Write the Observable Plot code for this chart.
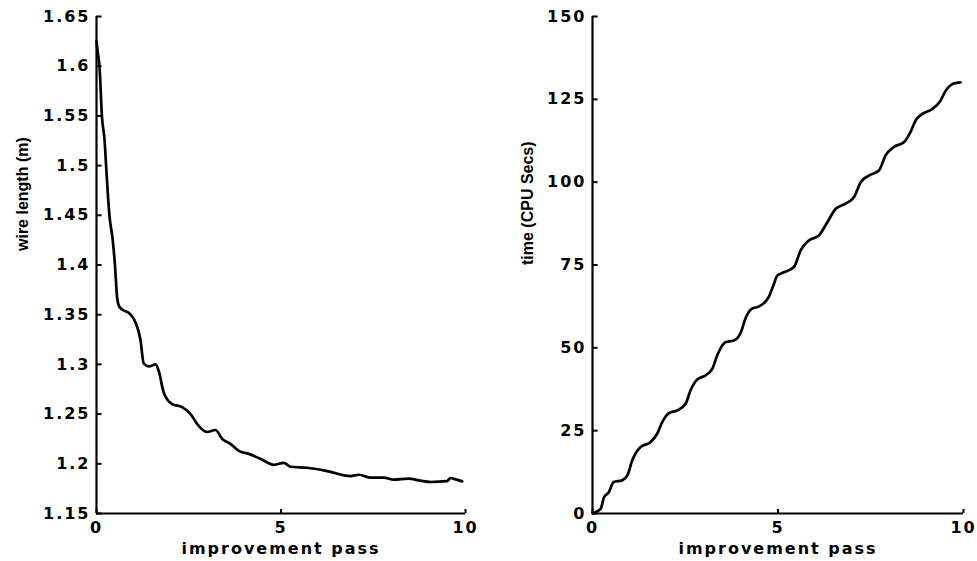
<!DOCTYPE html>
<html>
<head>
<meta charset="utf-8">
<script src="https://cdn.jsdelivr.net/npm/d3@7"></script>
<script src="https://cdn.jsdelivr.net/npm/@observablehq/plot@0.6"></script>
<style>
  html, body { margin: 0; padding: 0; background: #fff; }
  #wrap { display: flex; width: 977px; height: 561px; }
  svg text { letter-spacing: 2px; }
  svg text[transform*="rotate"] { letter-spacing: 0px; }
</style>
</head>
<body>
<div id="wrap"></div>
<script>
// ---- data ----
const passLeft = [0, 0.03, 0.08, 0.15, 0.22, 0.26, 0.35, 0.44, 0.50, 0.56, 0.62, 0.75, 0.87, 0.97, 1.06, 1.19, 1.28, 1.42, 1.60, 1.69, 1.82, 2.05, 2.32, 2.55, 2.73, 3.00, 3.22, 3.41, 3.63, 3.86, 4.13, 4.44, 4.81, 5.08, 5.26, 5.71, 6.25, 6.88, 7.11, 7.43, 7.79, 8.06, 8.46, 8.78, 9.05, 9.50, 9.59, 9.73, 9.91];
const wireLength = [1.625, 1.615, 1.600, 1.548, 1.525, 1.500, 1.450, 1.425, 1.400, 1.367, 1.358, 1.354, 1.352, 1.348, 1.342, 1.325, 1.301, 1.298, 1.300, 1.293, 1.272, 1.260, 1.257, 1.250, 1.240, 1.232, 1.234, 1.225, 1.220, 1.213, 1.210, 1.205, 1.199, 1.201, 1.197, 1.196, 1.1927, 1.1877, 1.189, 1.186, 1.186, 1.184, 1.185, 1.183, 1.1817, 1.1825, 1.1857, 1.1843, 1.1823];

const passRight = [0, 0.22, 0.31, 0.44, 0.57, 0.80, 0.94, 1.07, 1.29, 1.56, 1.74, 1.88, 2.06, 2.28, 2.51, 2.64, 2.82, 3.05, 3.23, 3.36, 3.58, 3.81, 4.00, 4.12, 4.30, 4.49, 4.75, 4.89, 4.98, 5.16, 5.43, 5.61, 5.83, 6.10, 6.33, 6.55, 6.82, 7.05, 7.23, 7.45, 7.72, 7.90, 8.12, 8.40, 8.57, 8.71, 8.89, 9.16, 9.38, 9.52, 9.74, 9.92];
const cpuTime = [0, 1.4, 4.9, 6.4, 9.5, 10.0, 11.5, 16.0, 20.0, 21.5, 24.0, 27.6, 30.3, 31.1, 33.1, 37.1, 40.4, 41.7, 43.7, 47.7, 51.7, 52.2, 54.7, 58.8, 61.8, 62.5, 65.3, 69.3, 71.8, 72.8, 74.4, 79.4, 82.4, 83.9, 87.9, 91.9, 93.5, 95.5, 100.0, 102.0, 103.5, 108.1, 110.6, 112.1, 115.1, 118.6, 120.6, 122.1, 124.6, 127.6, 129.8, 130.1];

const xTicks = [0, 5, 10];
const wireTicks = [1.15, 1.2, 1.25, 1.3, 1.35, 1.4, 1.45, 1.5, 1.55, 1.6, 1.65];
const timeTicks = [0, 25, 50, 75, 100, 125, 150];

const xLabel = "improvement pass";
const wireLabel = "wire length (m)";
const timeLabel = "time (CPU Secs)";

const leftData = passLeft.map((x, i) => ({x, y: wireLength[i]}));
const rightData = passRight.map((x, i) => ({x, y: cpuTime[i]}));

const baseStyle = {
  fontFamily: "'DejaVu Sans', sans-serif",
  fontWeight: "bold",
  fontSize: "16px",
  color: "#000",
  background: "#fff",
  overflow: "visible"
};

function panel({data, width, marginLeft, marginRight, yDomain, yTicks, yTickLen, xTickLen, yLabel, labelDx, labelDy}) {
  return Plot.plot({
    width, height: 561,
    marginLeft, marginRight, marginTop: 16, marginBottom: 48,
    style: baseStyle,
    x: {domain: [0, 10], ticks: xTicks, tickSize: 0, tickPadding: 8, label: null, tickFormat: d => String(d)},
    y: {domain: yDomain, ticks: yTicks, tickSize: 0, tickPadding: 6, label: null, tickFormat: d => String(d)},
    marks: [
      Plot.ruleX([0], {stroke: "#000", strokeWidth: 2.2}),
      Plot.ruleY([yDomain[0]], {stroke: "#000", strokeWidth: 2.2}),
      Plot.ruleY(yTicks, {y: d => d, x1: 0, x2: yTickLen, stroke: "#000", strokeWidth: 2}),
      Plot.ruleX(xTicks, {x: d => d, y1: yDomain[0], y2: yDomain[0] + xTickLen, stroke: "#000", strokeWidth: 2}),
      Plot.line(data, {x: "x", y: "y", stroke: "#000", strokeWidth: 2.7, curve: "monotone-x"}),
      Plot.text([xLabel], {frameAnchor: "bottom", dy: 40, text: d => d, fontSize: 16, fill: "#000"}),
      Plot.text([yLabel], {frameAnchor: "left", dx: labelDx, dy: labelDy, rotate: -90, text: d => d,
        fontSize: 16, fontFamily: "'Liberation Sans', Arial, sans-serif", fill: "#000"})
    ]
  });
}

const wrap = document.getElementById("wrap");
wrap.append(panel({
  data: leftData, width: 488, marginLeft: 96, marginRight: 23,
  yDomain: [1.15, 1.65], yTicks: wireTicks, yTickLen: 0.15, xTickLen: 0.004,
  yLabel: wireLabel, labelDx: -74, labelDy: -14
}));
wrap.append(panel({
  data: rightData, width: 489, marginLeft: 104, marginRight: 14,
  yDomain: [0, 150], yTicks: timeTicks, yTickLen: 0.15, xTickLen: 1.2,
  yLabel: timeLabel, labelDx: -65, labelDy: 0
}));
</script>
</body>
</html>
